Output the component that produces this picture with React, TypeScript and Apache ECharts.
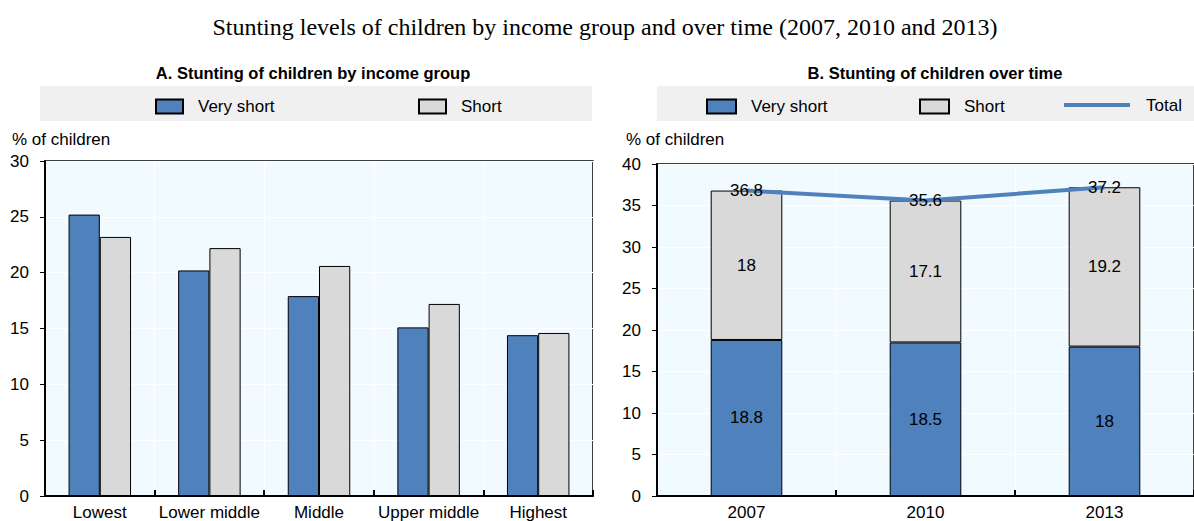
import React, { useEffect, useRef } from "react";
import * as echarts from "echarts";

const incomeGroups = ["Lowest", "Lower middle", "Middle", "Upper middle", "Highest"];
const incomeVeryShort = [25.2, 20.2, 17.9, 15.1, 14.4];
const incomeShort = [23.2, 22.2, 20.6, 17.2, 14.6];

const years = ["2007", "2010", "2013"];
const yearVeryShort = [18.8, 18.5, 18];
const yearShort = [18, 17.1, 19.2];
const yearTotal = [36.8, 35.6, 37.2];

const FONT = "'Liberation Sans', Arial, sans-serif";
const SERIF = "'Liberation Serif', 'Times New Roman', serif";
const FS = 17;
const BLUE = "#4F81BD";
const GREY = "#D9D9D9";
const PLOT_BG = "#F0FAFF";

export default function App() {
  const ref = useRef<HTMLDivElement>(null);

  useEffect(() => {
    if (!ref.current) return;
    const chart = echarts.init(ref.current, undefined, { renderer: "svg" });

    const xAxisBase = (gridIndex: number, data: string[]) => ({
      type: "category",
      gridIndex,
      data,
      axisLine: { show: true, lineStyle: { color: "#000", width: 2 } },
      axisTick: { show: true, inside: true, length: 6, lineStyle: { color: "#000", width: 2 } },
      splitLine: { show: true, lineStyle: { color: "#FFFFFF", width: 1 } },
      axisLabel: { color: "#000", fontSize: FS, fontFamily: FONT, margin: 8, interval: 0 },
    });

    const yAxisBase = (gridIndex: number, max: number) => ({
      type: "value",
      gridIndex,
      min: 0,
      max,
      interval: 5,
      axisLine: { show: true, lineStyle: { color: "#000", width: 2 } },
      axisTick: { show: true, inside: false, length: 5, lineStyle: { color: "#000", width: 1 } },
      splitLine: { show: true, lineStyle: { color: "#FFFFFF", width: 1 } },
      axisLabel: { color: "#000", fontSize: FS, fontFamily: FONT, margin: 16 },
    });

    const legendText = { color: "#000", fontSize: FS, fontFamily: FONT, padding: [0, 0, 0, 10] };
    const legendBase = {
      itemWidth: 27,
      itemHeight: 14,
      textStyle: legendText,
      itemGap: 0,
      selectedMode: false,
      icon: "rect",
    };

    const option: any = {
      animation: false,
      backgroundColor: "#FFFFFF",
      title: [
        {
          text: "Stunting levels of children by income group and over time (2007, 2010 and 2013)",
          left: 600,
          top: 10,
          textAlign: "center",
          textStyle: { fontFamily: SERIF, fontSize: 24, fontWeight: "normal", color: "#000" },
        },
        {
          text: "A. Stunting of children by income group",
          left: 308,
          top: 59,
          textAlign: "center",
          textStyle: { fontFamily: FONT, fontSize: 16.5, fontWeight: "bold", color: "#000" },
        },
        {
          text: "B. Stunting of children over time",
          left: 930,
          top: 59,
          textAlign: "center",
          textStyle: { fontFamily: FONT, fontSize: 16.5, fontWeight: "bold", color: "#000" },
        },
      ],
      graphic: [
        { type: "rect", z: -10, shape: { x: 40, y: 86, width: 552, height: 35 }, style: { fill: "#F0F0F0" } },
        { type: "rect", z: -10, shape: { x: 657, y: 86, width: 537, height: 35 }, style: { fill: "#F0F0F0" } },
        {
          type: "text",
          x: 12,
          y: 131,
          style: { text: "% of children", fill: "#000", font: `${FS}px ${FONT}` },
        },
        {
          type: "text",
          x: 626,
          y: 131,
          style: { text: "% of children", fill: "#000", font: `${FS}px ${FONT}` },
        },
        {
          type: "line",
          shape: { x1: 1064, y1: 105, x2: 1130, y2: 105 },
          style: { stroke: BLUE, lineWidth: 4 },
        },
        {
          type: "text",
          x: 1146,
          y: 105,
          style: { text: "Total", fill: "#000", font: `${FS}px ${FONT}`, verticalAlign: "middle" },
        },
      ],
      legend: [
        { ...legendBase, data: ["Very short"], left: 150, top: 93 },
        { ...legendBase, data: ["Short"], left: 413, top: 93 },
        { ...legendBase, data: ["Very short"], left: 701, top: 93, itemWidth: 29 },
        { ...legendBase, data: ["Short"], left: 914, top: 93, itemWidth: 29 },
      ],
      grid: [
        { left: 45, top: 161, width: 548, height: 336, show: true, backgroundColor: PLOT_BG, borderColor: "#000", borderWidth: 1.5 },
        { left: 657, top: 164, width: 547, height: 333, show: true, backgroundColor: PLOT_BG, borderColor: "#000", borderWidth: 1.5 },
      ],
      xAxis: [xAxisBase(0, incomeGroups), xAxisBase(1, years)],
      yAxis: [yAxisBase(0, 30), yAxisBase(1, 40)],
      series: [
        {
          name: "Very short",
          type: "bar",
          xAxisIndex: 0,
          yAxisIndex: 0,
          data: incomeVeryShort,
          barGap: "0%",
          barCategoryGap: "43%",
          itemStyle: { color: BLUE, borderColor: "#000", borderWidth: 1 },
        },
        {
          name: "Short",
          type: "bar",
          xAxisIndex: 0,
          yAxisIndex: 0,
          data: incomeShort,
          barGap: "0%",
          barCategoryGap: "43%",
          itemStyle: { color: GREY, borderColor: "#000", borderWidth: 1 },
        },
        {
          name: "Very short",
          type: "bar",
          xAxisIndex: 1,
          yAxisIndex: 1,
          stack: "t",
          data: yearVeryShort,
          barWidth: "40%",
          itemStyle: { color: BLUE, borderColor: "#000", borderWidth: 1 },
          label: { show: true, position: "inside", color: "#000", fontSize: FS, fontFamily: FONT },
        },
        {
          name: "Short",
          type: "bar",
          xAxisIndex: 1,
          yAxisIndex: 1,
          stack: "t",
          data: yearShort,
          barWidth: "40%",
          itemStyle: { color: GREY, borderColor: "#000", borderWidth: 1 },
          label: { show: true, position: "inside", color: "#000", fontSize: FS, fontFamily: FONT },
        },
        {
          name: "Total",
          type: "line",
          xAxisIndex: 1,
          yAxisIndex: 1,
          data: yearTotal,
          z: 5,
          symbol: "circle",
          symbolSize: 1,
          itemStyle: { color: BLUE },
          lineStyle: { color: BLUE, width: 4 },
          label: { show: true, position: "inside", color: "#000", fontSize: FS, fontFamily: FONT },
        },
      ],
    };

    chart.setOption(option);
    return () => chart.dispose();
  }, []);

  return (
    <div
      ref={ref}
      style={{ position: "fixed", left: 0, top: 0, width: 1194, height: 521 }}
    />
  );
}
